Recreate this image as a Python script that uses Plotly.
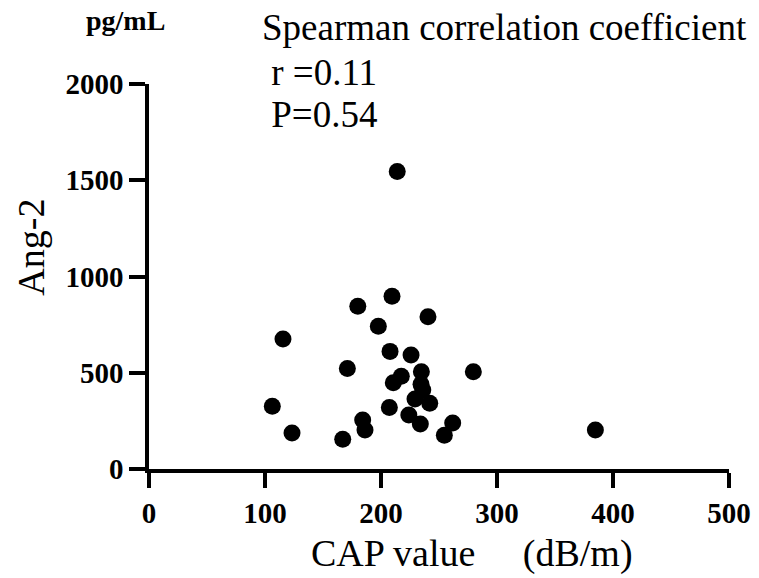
import plotly.graph_objects as go

cap_value = [214, 209.5, 180, 240.5, 197.7, 207.8, 225.9, 171, 279.6, 234.8, 217.5, 210.6,
             234.5, 236, 229.3, 242, 207.2, 224, 184.2, 186.2, 233.9, 261.8, 254.6, 167,
             384.8, 115.5, 106.3, 123.3]
ang2 = [1545, 897, 845, 791, 741, 611, 592, 522, 505, 505, 482, 448,
        440, 410, 364, 342, 319, 281, 255, 203, 234, 239, 175, 154,
        203, 675, 326, 187]

x_ticks = [0, 100, 200, 300, 400, 500]
y_ticks = [0, 500, 1000, 1500, 2000]

serif = "Liberation Serif"

fig = go.Figure()
fig.add_trace(go.Scatter(
    x=cap_value, y=ang2, mode="markers",
    marker=dict(color="black", size=17, line=dict(width=0)),
    cliponaxis=False, showlegend=False,
))

fig.update_layout(
    width=759, height=578,
    margin=dict(l=149, r=30, t=84, b=109),
    paper_bgcolor="white", plot_bgcolor="white",
    font=dict(family=serif, color="black"),
    xaxis=dict(
        range=[0, 500], tickvals=x_ticks, ticktext=[str(v) for v in x_ticks],
        showline=True, linecolor="black", linewidth=3.5, showgrid=False, zeroline=False,
        ticks="outside", ticklen=15, tickwidth=3.5, tickcolor="black", automargin=False,
        tickfont=dict(family=serif, size=29, color="black", weight="bold"),
    ),
    yaxis=dict(
        range=[0, 2000], tickvals=y_ticks, ticktext=[str(v) for v in y_ticks],
        showline=True, linecolor="black", linewidth=3.5, showgrid=False, zeroline=False,
        ticks="outside", ticklen=16, tickwidth=3.5, tickcolor="black", automargin=False,
        tickfont=dict(family=serif, size=29, color="black", weight="bold"),
    ),
)

def note(text, x, y, size, xanchor="left", angle=0):
    fig.add_annotation(text=text, xref="paper", yref="paper", x=x, y=y,
                       xanchor=xanchor, yanchor="middle", showarrow=False, textangle=angle,
                       font=dict(family=serif, size=size, color="black"))

note("<b>pg/mL</b>", -0.0397, 1.164, 28, xanchor="center")
note("Spearman correlation coefficient", 0.1922, 1.148, 37)
note(" r =0.11", 0.1922, 1.0286, 37)
note(" P=0.54", 0.1922, 0.922, 37)
note("Ang-2", -0.204, 0.5766, 38, xanchor="center", angle=-90)
note("CAP value \u00a0\u00a0\u00a0\u00a0(dB/m)", 0.557, -0.2195, 38, xanchor="center")

post = ("document.documentElement.style.margin='0';"
        "document.body.style.margin='0';"
        "document.documentElement.style.overflow='hidden';"
        "document.body.style.overflow='hidden';")

fig.write_html("out.html", config={"responsive": False, "displayModeBar": False},
               post_script=post)
